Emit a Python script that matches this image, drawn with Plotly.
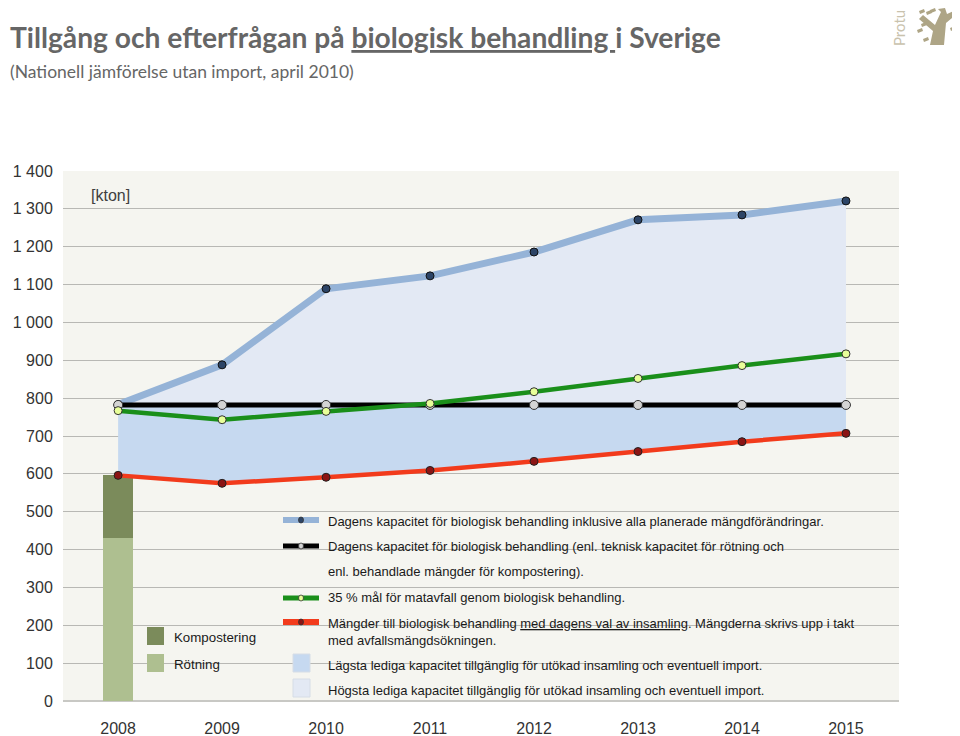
import plotly.graph_objects as go

# ---------------- data ----------------
years = [2008, 2009, 2010, 2011, 2012, 2013, 2014, 2015]
cap_planned = [783, 888, 1089, 1123, 1186, 1271, 1284, 1321]   # light blue line
cap_today = [782, 782, 782, 782, 782, 782, 782, 782]            # black line
goal_35 = [767, 743, 765, 786, 817, 852, 886, 917]              # green line
amounts_today = [596, 575, 591, 609, 633, 659, 685, 707]        # red line

bar_year = [2008]
rotning = [430]
kompostering = [168]

y_ticks = [0, 100, 200, 300, 400, 500, 600, 700, 800, 900, 1000, 1100, 1200, 1300, 1400]
y_ticktext = ["0", "100", "200", "300", "400", "500", "600", "700", "800", "900",
              "1 000", "1 100", "1 200", "1 300", "1 400"]

legend_texts = [
    "Dagens kapacitet för biologisk behandling inklusive alla planerade mängdförändringar.",
    "Dagens kapacitet för biologisk behandling (enl. teknisk kapacitet för rötning och",
    "enl. behandlade mängder för kompostering).",
    "35 % mål för matavfall genom biologisk behandling.",
    "Mängder till biologisk behandling <u>med dagens val av insamling</u>. Mängderna skrivs upp i takt",
    "med avfallsmängdsökningen.",
    "Lägsta lediga kapacitet tillgänglig för utökad insamling och eventuell import.",
    "Högsta lediga kapacitet tillgänglig för utökad insamling och eventuell import.",
]

# ---------------- styling ----------------
C_BLUE = "#95b3d7"
C_BLACK = "#000000"
C_GREEN = "#1a8f1a"
C_RED = "#f23b1c"
C_FILL_LOW = "#c6d9f0"
C_FILL_HIGH = "#e3e9f4"
C_KOMP = "#7b8b5b"
C_ROT = "#aebf90"
PLOT_BG = "#f5f5f0"
FONT = "Liberation Sans, Arial, sans-serif"

OFF = 8  # page body margin offset
W, H = 960, 736
L, R, T, B = 63 - OFF, 899 - OFF, 171 - OFF, 701 - OFF


def px(x):
    return (x - OFF - L) / (R - L)


def py(y):
    return (B - (y - OFF)) / (B - T)


fig = go.Figure()

# stacked bar 2008
fig.add_trace(go.Bar(x=bar_year, y=rotning, marker=dict(color=C_ROT, line=dict(width=0)),
                     width=0.29, hoverinfo="skip", showlegend=False))
fig.add_trace(go.Bar(x=bar_year, y=kompostering, marker=dict(color=C_KOMP, line=dict(width=0)),
                     width=0.29, hoverinfo="skip", showlegend=False))

# fill between black and blue
fig.add_trace(go.Scatter(x=years, y=cap_today, mode="lines", line=dict(width=0),
                         hoverinfo="skip", showlegend=False))
fig.add_trace(go.Scatter(x=years, y=cap_planned, mode="lines", line=dict(width=0),
                         fill="tonexty", fillcolor=C_FILL_HIGH, hoverinfo="skip", showlegend=False))
# fill between red and black
fig.add_trace(go.Scatter(x=years, y=amounts_today, mode="lines", line=dict(width=0),
                         hoverinfo="skip", showlegend=False))
fig.add_trace(go.Scatter(x=years, y=cap_today, mode="lines", line=dict(width=0),
                         fill="tonexty", fillcolor=C_FILL_LOW, hoverinfo="skip", showlegend=False))

# lines
fig.add_trace(go.Scatter(x=years, y=cap_planned, mode="lines+markers",
                         line=dict(color=C_BLUE, width=7),
                         marker=dict(size=8, color="#2c4466", line=dict(color="#111", width=1)),
                         showlegend=False))
fig.add_trace(go.Scatter(x=years, y=cap_today, mode="lines+markers",
                         line=dict(color=C_BLACK, width=5),
                         marker=dict(size=9, color="#d4d4d4", line=dict(color="#333", width=1)),
                         showlegend=False))
fig.add_trace(go.Scatter(x=years, y=goal_35, mode="lines+markers",
                         line=dict(color=C_GREEN, width=4.5),
                         marker=dict(size=8, color="#e8ff99", line=dict(color="#333", width=1)),
                         showlegend=False))
fig.add_trace(go.Scatter(x=years, y=amounts_today, mode="lines+markers",
                         line=dict(color=C_RED, width=4.5),
                         marker=dict(size=8, color="#8b1414", line=dict(color="#222", width=1)),
                         showlegend=False))

shapes = []
annotations = []

# legend background boxes hiding gridlines
shapes.append(dict(type="rect", xref="paper", yref="paper", layer="between",
                   x0=px(270), x1=px(877), y0=py(700), y1=py(505),
                   fillcolor=PLOT_BG, line=dict(width=0)))
shapes.append(dict(type="rect", xref="paper", yref="paper", layer="between",
                   x0=px(138), x1=px(271), y0=py(700), y1=py(612),
                   fillcolor=PLOT_BG, line=dict(width=0)))

# line legend symbols
line_syms = [(520, C_BLUE, 6, "#2c4466"), (546, C_BLACK, 5, "#d4d4d4"),
             (598, C_GREEN, 5, "#e8ff99"), (622, C_RED, 6, "#8b1414")]
for yy, col, wdt, mcol in line_syms:
    shapes.append(dict(type="line", xref="paper", yref="paper", layer="above",
                       x0=px(283), x1=px(319), y0=py(yy), y1=py(yy),
                       line=dict(color=col, width=wdt)))
    shapes.append(dict(type="circle", xref="paper", yref="paper", layer="above",
                       x0=px(298.5), x1=px(303.5), y0=py(yy + 3), y1=py(yy - 3),
                       fillcolor=mcol, line=dict(color="#333", width=0.8)))

# square legend symbols
for yy, col in [(663, C_FILL_LOW), (688, C_FILL_HIGH)]:
    shapes.append(dict(type="rect", xref="paper", yref="paper", layer="above",
                       x0=px(293), x1=px(310), y0=py(yy + 9), y1=py(yy - 9),
                       fillcolor=col, line=dict(color="#d6dde6", width=1)))
for yy, col in [(636, C_KOMP), (663, C_ROT)]:
    shapes.append(dict(type="rect", xref="paper", yref="paper", layer="above",
                       x0=px(147), x1=px(164), y0=py(yy + 9), y1=py(yy - 9),
                       fillcolor=col, line=dict(width=0)))

legend_rows = [521, 546, 571, 597, 623, 640, 665, 690]
for txt, yy in zip(legend_texts, legend_rows):
    annotations.append(dict(text=txt, xref="paper", yref="paper", x=px(326), y=py(yy),
                            xanchor="left", yanchor="middle", showarrow=False,
                            font=dict(family=FONT, size=13, color="#1a1a1a")))

for txt, yy in [("Kompostering", 637), ("Rötning", 664)]:
    annotations.append(dict(text=txt, xref="paper", yref="paper", x=px(172), y=py(yy),
                            xanchor="left", yanchor="middle", showarrow=False,
                            font=dict(family=FONT, size=13.3, color="#1a1a1a")))

# unit label
annotations.append(dict(text="[kton]", xref="paper", yref="paper", x=px(89), y=py(195),
                        xanchor="left", yanchor="middle", showarrow=False,
                        font=dict(family=FONT, size=16, color="#404040")))

# title & subtitle
annotations.append(dict(text="Tillgång och efterfrågan på <u>biologisk behandling </u>i Sverige",
                        xref="paper", yref="paper", x=px(8), y=py(37),
                        xanchor="left", yanchor="middle", showarrow=False,
                        font=dict(family="Lato, sans-serif", size=28.2, color="#666666", weight="bold")))
annotations.append(dict(text="(Nationell jämförelse utan import, april 2010)",
                        xref="paper", yref="paper", x=px(8), y=py(72),
                        xanchor="left", yanchor="middle", showarrow=False,
                        font=dict(family="Lato, sans-serif", size=17.5, color="#666666")))

# logo text
annotations.append(dict(text="Protu", xref="paper", yref="paper", x=px(899), y=py(28),
                        xanchor="center", yanchor="middle", showarrow=False, textangle=-90,
                        font=dict(family="Lato, sans-serif", size=15, color="#c9c2ad")))


# logo tree (decorative path)
def pth(points):
    s = ""
    for i, (a, b) in enumerate(points):
        s += ("M" if i == 0 else "L") + f"{px(a):.5f},{py(b):.5f} "
    return s + "Z"


tree = [(930, 45), (933, 31), (919, 19), (923, 15), (935, 25), (941, 12), (938, 9),
        (945, 8), (947, 14), (956, 10), (958, 13), (946, 23), (944, 45)]
shapes.append(dict(type="path", xref="paper", yref="paper", path=pth(tree),
                   fillcolor="#aea586", line=dict(width=0), layer="above"))
for (a, b) in [(919, 11), (926, 12), (917, 30), (923, 39), (950, 28), (953, 37), (921, 24), (930, 10)]:
    shapes.append(dict(type="path", xref="paper", yref="paper",
                       path=pth([(a, b), (a + 5, b - 2), (a + 6, b + 1), (a + 1, b + 3)]),
                       fillcolor="#aea586", line=dict(width=0), layer="above"))

fig.update_layout(
    width=W, height=H,
    margin=dict(l=L, r=W - R, t=T, b=H - B, autoexpand=False),
    paper_bgcolor="white",
    plot_bgcolor=PLOT_BG,
    barmode="stack",
    showlegend=False,
    shapes=shapes,
    annotations=annotations,
    xaxis=dict(range=[2007.47, 2015.51], tickvals=years, ticktext=[str(y) for y in years],
               showgrid=False, zeroline=False, showline=False, automargin=False,
               ticks="outside", ticklen=13, tickcolor="rgba(0,0,0,0)",
               tickfont=dict(family=FONT, size=16, color="#333333")),
    yaxis=dict(range=[0, 1400], tickvals=y_ticks, ticktext=y_ticktext, automargin=False,
               showgrid=True, gridcolor="#b8b8b4", gridwidth=1.3,
               zeroline=True, zerolinecolor="#c8c8c4", zerolinewidth=1.5,
               showline=False, ticks="outside", ticklen=6, tickcolor="rgba(0,0,0,0)",
               tickfont=dict(family=FONT, size=16, color="#333333")),
)

fig.write_html("out.html")
